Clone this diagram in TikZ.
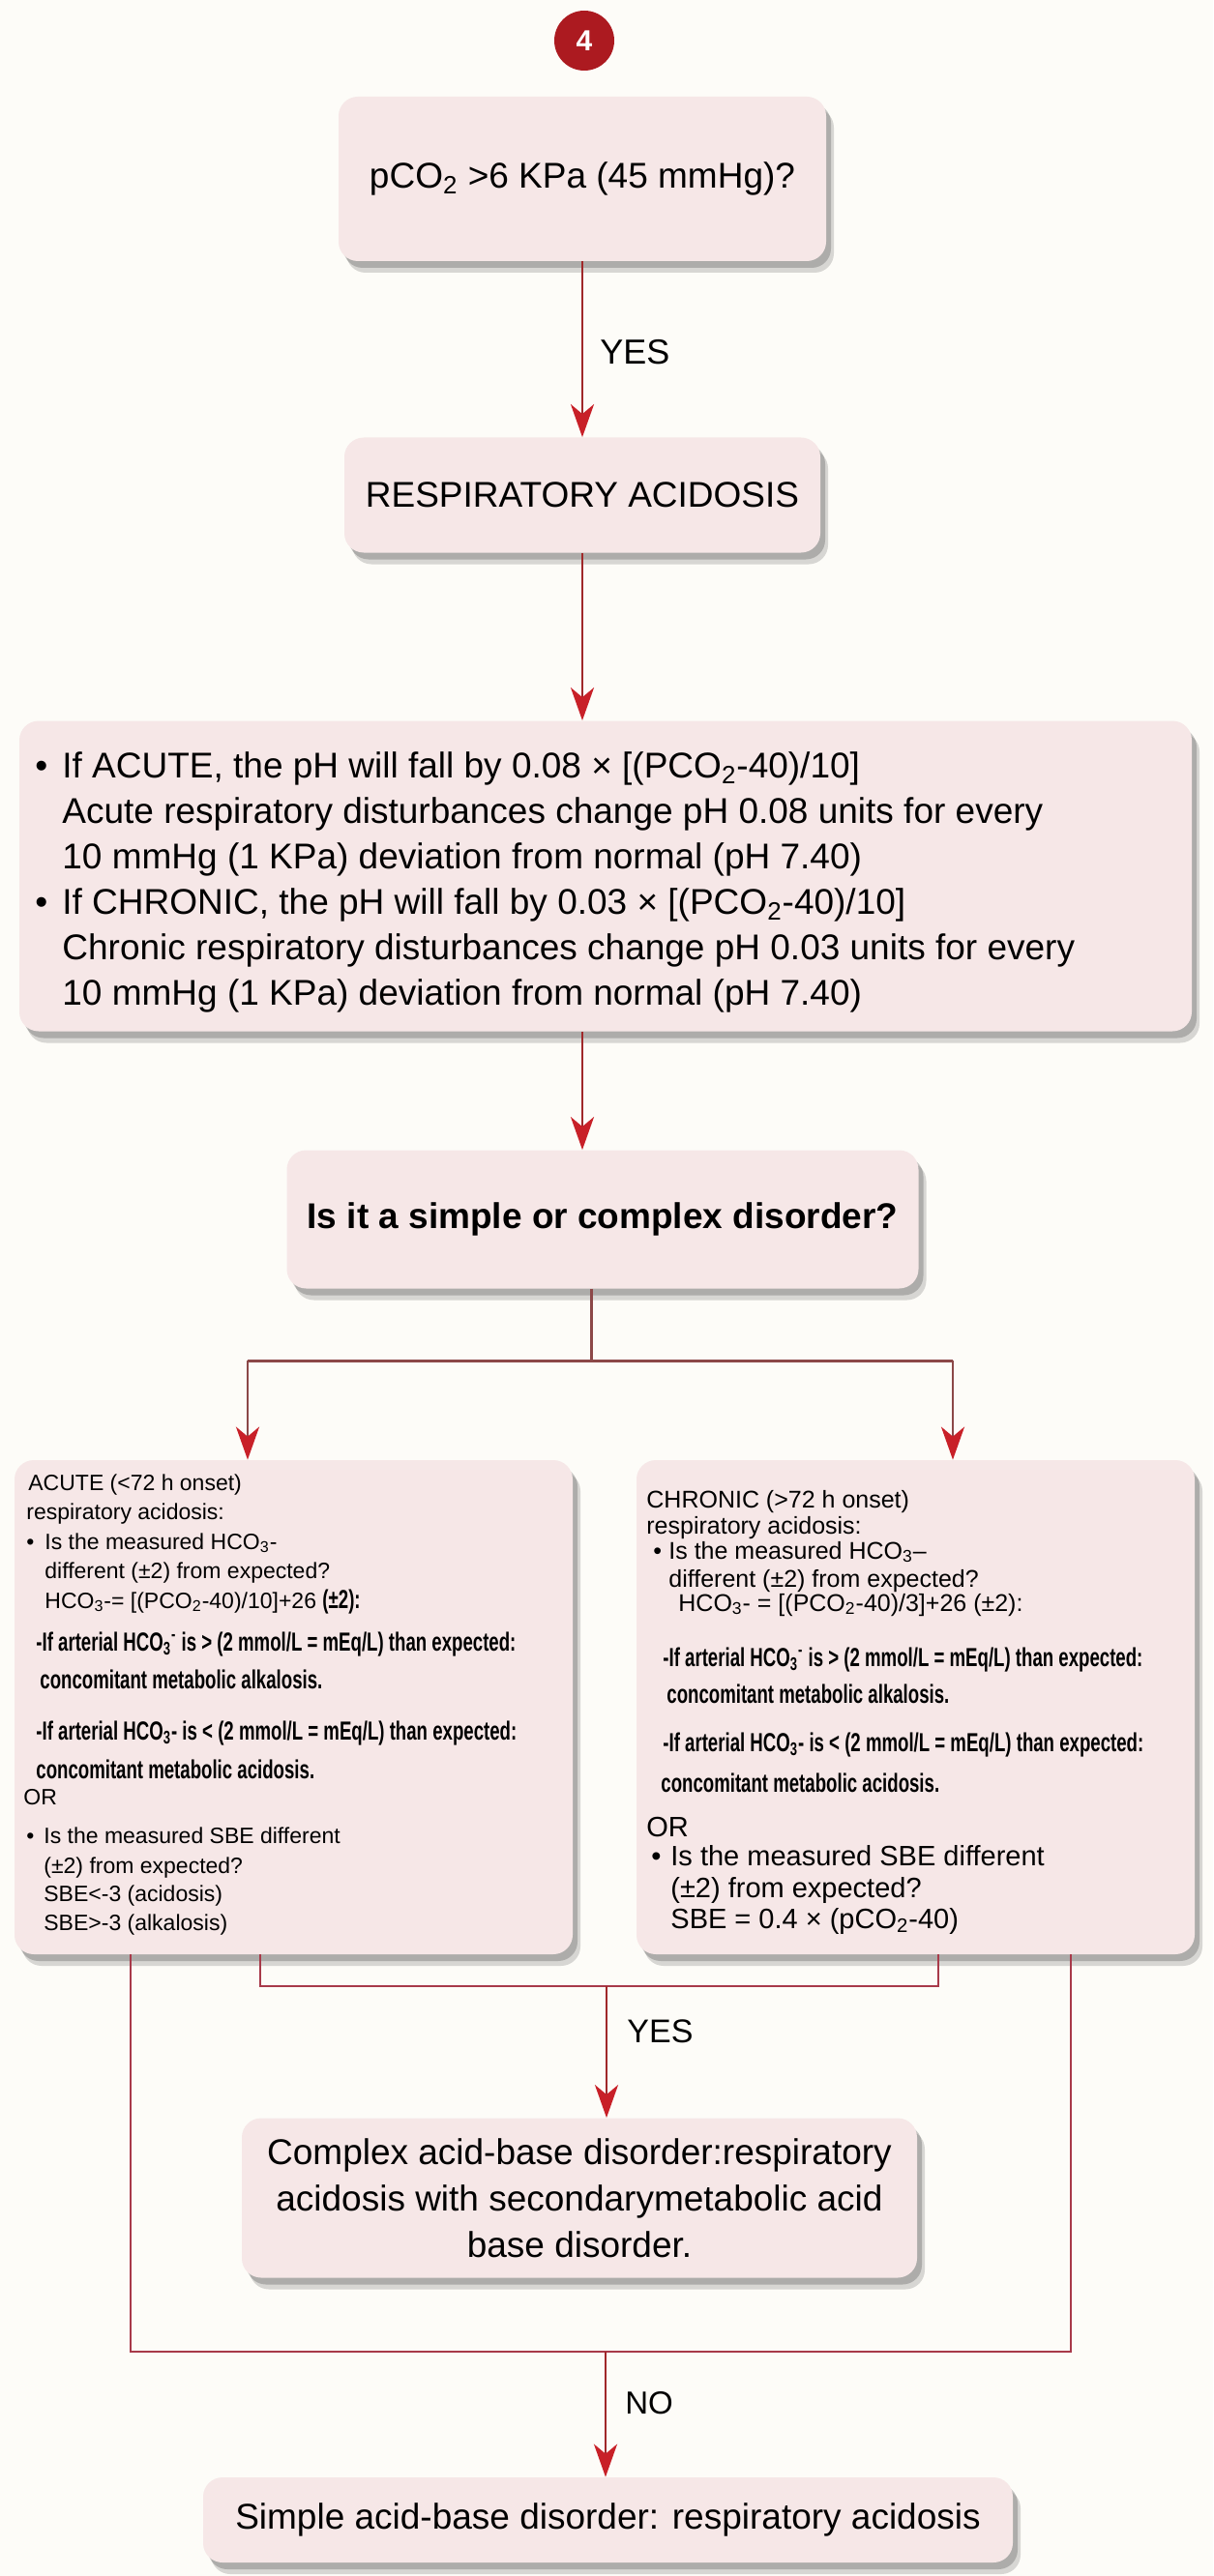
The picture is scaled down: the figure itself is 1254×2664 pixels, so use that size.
\documentclass[tikz,border=0pt]{standalone}
\usepackage{fontspec}
\setmainfont{Liberation Sans}
\newfontfamily\condsans[FakeStretch=0.69]{Liberation Sans}
\usetikzlibrary{arrows.meta,shadows}
\definecolor{paper}{RGB}{253,252,248}
\definecolor{boxfill}{RGB}{246,231,231}
\definecolor{linered}{RGB}{160,40,42}
\definecolor{tipred}{RGB}{200,32,40}
\definecolor{linkbrown}{RGB}{140,72,72}
\definecolor{framered}{RGB}{168,58,74}
\definecolor{badgered}{RGB}{172,26,32}
\begin{document}
\begin{tikzpicture}[x=0.5pt,y=-0.5pt,every node/.style={inner sep=0pt},
  box/.style={fill=boxfill,rounded corners=10pt,align=center,
    drop shadow={shadow xshift=4pt,shadow yshift=-6pt,opacity=0.15,fill=black},
    drop shadow={shadow xshift=2.5pt,shadow yshift=-3.5pt,opacity=0.3,fill=black!70},
    font=\fontsize{18.5}{24}\selectfont},
  txt/.style={anchor=base west},
  rtxt/.style={txt,font=\fontsize{18.5}{24}\selectfont},
  atxt/.style={txt,font=\fontsize{11.5}{14}\selectfont},
  ctxt/.style={txt,font=\fontsize{12.5}{15}\selectfont},
  cbig/.style={txt,font=\fontsize{14.5}{17}\selectfont},
  nb/.style={txt,font=\condsans\bfseries\fontsize{13.5}{16}\selectfont},
  arr/.style={draw=linered,line width=1.4pt,-{Stealth[length=17pt,width=12pt,inset=5pt,color=tipred]}},
  link/.style={draw=linkbrown,line width=1.5pt},
  frame/.style={draw=framered,line width=1.3pt}]
\fill[paper] (0,0) rectangle (1254,2664);
\useasboundingbox (0,0) rectangle (1254,2664);
\node[circle,fill=badgered,minimum size=31pt,text=white,font=\bfseries\fontsize{15}{15}\selectfont] (num) at (604,42) {4};
\node[box,minimum width=252pt,minimum height=85pt] (pco) at (602,185) {pCO\textsubscript{2} >6 KPa (45 mmHg)?};
\node[box,minimum width=246pt,minimum height=59.5pt] (resp) at (602,512) {RESPIRATORY ACIDOSIS};
\node[box,minimum width=606pt,minimum height=160.5pt] (rule) at (626,906) {};
\node[box,minimum width=326.5pt,minimum height=71.5pt,font=\bfseries\fontsize{18.5}{24}\selectfont] (kind) at (623,1261) {Is it a simple or complex disorder?};
\node[box,minimum width=288.5pt,minimum height=255.5pt] (acute) at (303.5,1765.5) {};
\node[box,minimum width=288.5pt,minimum height=255.5pt] (chronic) at (946.5,1765.5) {};
\node[box,minimum width=349pt,minimum height=82.5pt] (complex) at (599,2273) {Complex acid-base disorder:respiratory\\acidosis with secondarymetabolic acid\\base disorder.};
\node[box,minimum width=418.5pt,minimum height=44pt] (simple) at (628.5,2606) {Simple acid-base disorder: respiratory acidosis};
\node[rtxt] (r1) at (36,804) {\makebox[14pt][l]{•}If ACUTE, the pH will fall by 0.08 × [(PCO\textsubscript{2}-40)/10]};
\node[rtxt] (r2) at (64,851) {Acute respiratory disturbances change pH 0.08 units for every};
\node[rtxt] (r3) at (64,898) {10 mmHg (1 KPa) deviation from normal (pH 7.40)};
\node[rtxt] (r4) at (36,945) {\makebox[14pt][l]{•}If CHRONIC, the pH will fall by 0.03 × [(PCO\textsubscript{2}-40)/10]};
\node[rtxt] (r5) at (64,992) {Chronic respiratory disturbances change pH 0.03 units for every};
\node[rtxt] (r6) at (64,1039) {10 mmHg (1 KPa) deviation from normal (pH 7.40)};
\node[atxt] (a1) at (29,1541) {ACUTE (<72 h onset)};
\node[atxt] (a2) at (27,1571) {respiratory acidosis:};
\node[atxt] (a3) at (27,1602) {\makebox[9.5pt][l]{•}Is the measured HCO\textsubscript{3}-};
\node[atxt] (a4) at (46,1632) {different (±2) from expected?};
\node[atxt] (a5) at (46,1663) {HCO\textsubscript{3}-= [(PCO\textsubscript{2}-40)/10]+26 {\condsans\bfseries\fontsize{13.5}{16}\selectfont (±2):}};
\node[nb] (a6) at (37,1707) {-If arterial HCO\textsubscript{3}\textsuperscript{-} is > (2 mmol/L = mEq/L) than expected:};
\node[nb] (a7) at (41,1746) {concomitant metabolic alkalosis.};
\node[nb] (a8) at (37,1799) {-If arterial HCO\textsubscript{3}- is < (2 mmol/L = mEq/L) than expected:};
\node[nb] (a9) at (37,1839) {concomitant metabolic acidosis.};
\node[atxt] (a10) at (24,1866) {OR};
\node[atxt] (a11) at (27,1906) {\makebox[9pt][l]{•}Is the measured SBE different};
\node[atxt] (a12) at (45,1937) {(±2) from expected?};
\node[atxt] (a13) at (45,1966) {SBE<-3 (acidosis)};
\node[atxt] (a14) at (45,1996) {SBE>-3 (alkalosis)};
\node[ctxt] (c1) at (668,1559) {CHRONIC (>72 h onset)};
\node[ctxt] (c2) at (668,1586) {respiratory acidosis:};
\node[ctxt] (c3) at (675,1612) {\makebox[8pt][l]{•}Is the measured HCO\textsubscript{3}–};
\node[ctxt] (c4) at (691,1641) {different (±2) from expected?};
\node[ctxt] (c5) at (701,1666) {HCO\textsubscript{3}- = [(PCO\textsubscript{2}-40)/3]+26 (±2):};
\node[nb] (c6) at (685,1723) {-If arterial HCO\textsubscript{3}\textsuperscript{-} is > (2 mmol/L = mEq/L) than expected:};
\node[nb] (c7) at (689,1761) {concomitant metabolic alkalosis.};
\node[nb] (c8) at (685,1811) {-If arterial HCO\textsubscript{3}- is < (2 mmol/L = mEq/L) than expected:};
\node[nb] (c9) at (683,1853) {concomitant metabolic acidosis.};
\node[cbig] (c10) at (668,1899) {OR};
\node[cbig] (c11) at (673,1929) {\makebox[10pt][l]{•}Is the measured SBE different};
\node[cbig] (c12) at (693,1962) {(±2) from expected?};
\node[cbig] (c13) at (693,1994) {SBE = 0.4 × (pCO\textsubscript{2}-40)};
\node[anchor=west,font=\fontsize{18}{18}\selectfont] (yes1) at (620,364) {YES};
\node[anchor=west,font=\fontsize{17}{17}\selectfont] (yes2) at (648,2101) {YES};
\node[anchor=west,font=\fontsize{16.5}{16.5}\selectfont] (no) at (646,2485) {NO};
\draw[arr] (pco) -- (resp);
\draw[arr] (resp) -- (resp |- rule.north);
\draw[arr] (rule.south -| resp) -- (kind.north -| resp);
\coordinate (split) at (611,1407);
\coordinate (fl) at (256,1407);
\coordinate (fr) at (985,1407);
\draw[link] (kind.south -| split) -- (split);
\draw[link] (fl) -- (fr);
\draw[arr,draw=linkbrown] (fl) -- (fl |- acute.north);
\draw[arr,draw=linkbrown] (fr) -- (fr |- chronic.north);
\coordinate (jl) at (269,2054);
\coordinate (jr) at (970,2054);
\coordinate (ol) at (135,2432);
\coordinate (or) at (1107,2432);
\draw[frame] (acute.south -| jl) -- (jl) -- (jr) -- (chronic.south -| jr);
\draw[frame] (acute.south -| ol) -- (ol) -- (or) -- (chronic.south -| or);
\coordinate (yj) at (627,2054);
\coordinate (nj) at (626,2432);
\draw[arr] (yj) -- (yj |- complex.north);
\draw[arr] (nj) -- (nj |- simple.north);
\end{tikzpicture}
\end{document}
